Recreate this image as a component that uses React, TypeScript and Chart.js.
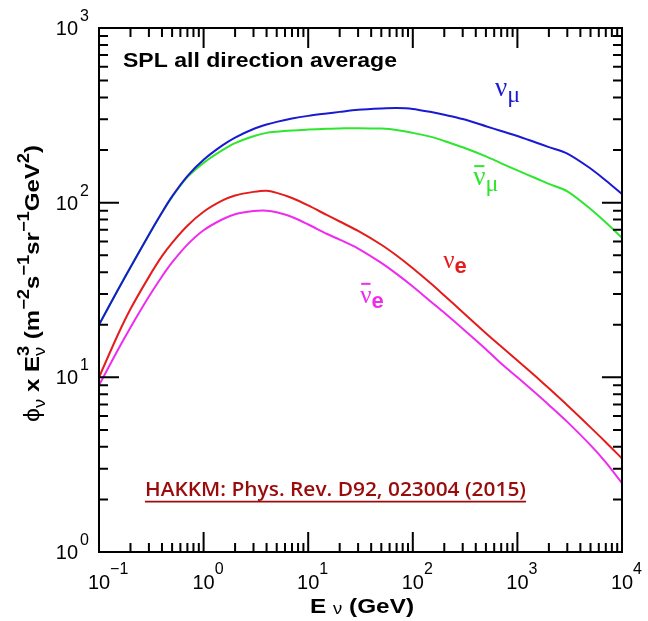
import React, { useEffect, useRef } from 'react';
import { Chart, registerables } from 'chart.js';

Chart.register(...registerables);

// ---- data ----
const energyGeV = [0.1, 0.15, 0.2, 0.3, 0.4, 0.5, 0.7, 1, 1.5, 2, 3, 4, 5, 7, 10, 15, 20, 30, 50, 70, 100, 150, 200, 300, 500, 700, 1000, 1500, 2000, 3000, 5000, 7000, 10000];
const numuFlux = [20, 31.3, 42.7, 65.6, 87.9, 108.7, 142, 176, 212, 236, 264, 280, 290, 303, 314, 324, 331, 340, 346, 348, 344, 330, 318.5, 301, 274, 257, 241, 221, 208, 191, 157, 134, 112];
const numubarFlux = [20, 31.3, 42.7, 65.6, 87.9, 108, 140, 169, 199, 219, 240, 251, 255, 259, 262, 265, 266, 267, 265.5, 261, 251, 238, 225.5, 207.5, 184, 168, 153, 138, 128, 116, 92, 77, 63];
const nueFlux = [10, 17.3, 24.6, 37.6, 49.4, 58.9, 73.8, 88.7, 102.6, 110, 115.3, 117, 113.8, 106.4, 96.4, 85.1, 78, 68.9, 57.4, 49.8, 42.1, 34.3, 29.4, 23.6, 17.9, 15, 12.5, 10.1, 8.65, 6.92, 5.17, 4.25, 3.43];
const nuebarFlux = [9, 14.2, 19.3, 29, 37.8, 45.5, 57.5, 69.5, 80.1, 85.9, 89.5, 90, 88.1, 82.8, 75, 66.4, 61.4, 54.6, 45.2, 39.1, 33.1, 27, 23.4, 19, 14.5, 12, 10, 8.1, 6.95, 5.56, 4.09, 3.26, 2.48];

const xTickValues = [0.1, 1, 10, 100, 1000, 10000];
const xTickExponents = ['\u22121', '0', '1', '2', '3', '4'];
const yTickValues = [1, 10, 100, 1000];
const yTickExponents = ['0', '1', '2', '3'];
const minorMultipliers = [2, 3, 4, 5, 6, 7, 8, 9];

const titleText = 'SPL all direction average';
const referenceText = 'HAKKM: Phys. Rev. D92, 023004 (2015)';

const COLORS = {
  numu: '#1a1ad2',
  numubar: '#2ee62e',
  nue: '#e41c1c',
  nuebar: '#ee2cee',
  ref: '#9a0c0c',
};

type Part = { t: string; font: string; dy?: number; stack?: boolean; bar?: boolean };

function partsWidth(ctx: CanvasRenderingContext2D, parts: Part[]) {
  let w = 0;
  let prevW = 0;
  for (const p of parts) {
    ctx.font = p.font;
    const pw = ctx.measureText(p.t).width;
    if (p.stack) {
      w += Math.max(0, pw - prevW);
      prevW = Math.max(pw, prevW);
    } else {
      w += pw;
      prevW = pw;
    }
  }
  return w;
}

// draws rich text starting at (x, y); optional horizontal stretch sx
function drawParts(ctx: CanvasRenderingContext2D, parts: Part[], x: number, y: number, color: string, sx = 1) {
  ctx.save();
  ctx.translate(x, y);
  ctx.scale(sx, 1);
  let cx = 0;
  let prevStart = 0;
  let prevW = 0;
  ctx.fillStyle = color;
  ctx.strokeStyle = color;
  ctx.textAlign = 'left';
  ctx.textBaseline = 'alphabetic';
  for (const p of parts) {
    ctx.font = p.font;
    const pw = ctx.measureText(p.t).width;
    const px = p.stack ? prevStart : cx;
    ctx.fillText(p.t, px, p.dy || 0);
    if (p.bar) {
      ctx.lineWidth = 2;
      ctx.beginPath();
      ctx.moveTo(px + 1, (p.dy || 0) - 19);
      ctx.lineTo(px + pw - 1, (p.dy || 0) - 19);
      ctx.stroke();
    }
    if (p.stack) {
      cx = prevStart + Math.max(pw, prevW);
      prevW = Math.max(pw, prevW);
    } else {
      prevStart = cx;
      cx += pw;
      prevW = pw;
    }
  }
  ctx.restore();
}

const SANS = '"Liberation Sans", Arial, sans-serif';
const SERIF = '"Liberation Serif", "Times New Roman", serif';

const seriesLabels: { x: number; y: number; color: string; parts: Part[] }[] = [
  {
    x: 612, y: 409, color: COLORS.numu,
    parts: [
      { t: '\u03bd', font: `27px ${SERIF}` },
      { t: '\u03bc', font: `24px ${SERIF}`, dy: 6 },
    ],
  },
  {
    x: 378, y: 126, color: COLORS.numubar,
    parts: [
      { t: '\u03bd', font: `27px ${SERIF}`, bar: true },
      { t: '\u03bc', font: `24px ${SERIF}`, dy: 6 },
    ],
  },
  {
    x: 195, y: 42.3, color: COLORS.nue,
    parts: [
      { t: '\u03bd', font: `25px ${SERIF}` },
      { t: 'e', font: `bold 22px ${SANS}`, dy: 5 },
    ],
  },
  {
    x: 31.4, y: 26.7, color: COLORS.nuebar,
    parts: [
      { t: '\u03bd', font: `25px ${SERIF}`, bar: true },
      { t: 'e', font: `bold 22px ${SANS}`, dy: 5 },
    ],
  },
];

const decorPlugin = {
  id: 'decor',
  afterDatasetsDraw(chart: any) {
    const { ctx, chartArea: a, scales } = chart;
    const xs = scales.x;
    const ys = scales.y;
    ctx.save();

    // frame
    ctx.strokeStyle = '#000';
    ctx.lineWidth = 2;
    ctx.strokeRect(a.left, a.top, a.right - a.left, a.bottom - a.top);

    // ticks, inward, on all four sides
    const majorLen = 20;
    const minorLen = 9;
    ctx.beginPath();
    const xDecades = xTickValues.slice(0, -1);
    for (const v of xTickValues) {
      const px = xs.getPixelForValue(v);
      ctx.moveTo(px, a.bottom); ctx.lineTo(px, a.bottom - majorLen);
      ctx.moveTo(px, a.top); ctx.lineTo(px, a.top + majorLen);
    }
    for (const d of xDecades) {
      for (const m of minorMultipliers) {
        const px = xs.getPixelForValue(d * m);
        ctx.moveTo(px, a.bottom); ctx.lineTo(px, a.bottom - minorLen);
        ctx.moveTo(px, a.top); ctx.lineTo(px, a.top + minorLen);
      }
    }
    const yDecades = yTickValues.slice(0, -1);
    for (const v of yTickValues) {
      const py = ys.getPixelForValue(v);
      ctx.moveTo(a.left, py); ctx.lineTo(a.left + majorLen, py);
      ctx.moveTo(a.right, py); ctx.lineTo(a.right - majorLen, py);
    }
    for (const d of yDecades) {
      for (const m of minorMultipliers) {
        const py = ys.getPixelForValue(d * m);
        ctx.moveTo(a.left, py); ctx.lineTo(a.left + minorLen, py);
        ctx.moveTo(a.right, py); ctx.lineTo(a.right - minorLen, py);
      }
    }
    ctx.stroke();

    // tick labels
    const baseFont = `20px ${SANS}`;
    const expFont = `16px ${SANS}`;
    ctx.fillStyle = '#000';
    ctx.textBaseline = 'alphabetic';
    xTickValues.forEach((v, i) => {
      const px = xs.getPixelForValue(v);
      ctx.font = baseFont;
      const bw = ctx.measureText('10').width;
      ctx.textAlign = 'center';
      ctx.fillText('10', px, a.bottom + 37);
      ctx.font = expFont;
      ctx.textAlign = 'left';
      ctx.fillText(xTickExponents[i], px + bw / 2, a.bottom + 22);
    });
    yTickValues.forEach((v, i) => {
      const py = ys.getPixelForValue(v);
      ctx.font = expFont;
      ctx.textAlign = 'left';
      ctx.fillText(yTickExponents[i], a.left - 19, py - 7);
      ctx.font = baseFont;
      ctx.textAlign = 'right';
      ctx.fillText('10', a.left - 21, py + 7);
    });

    // inner title
    const titleParts: Part[] = [{ t: titleText, font: `bold 20px ${SANS}` }];
    const tw = partsWidth(ctx, titleParts);
    drawParts(ctx, titleParts, xs.getPixelForValue(0.1696), ys.getPixelForValue(598), '#000', 274 / tw);

    // reference line
    ctx.font = `600 20px "Open Sans", ${SANS}`;
    ctx.fillStyle = COLORS.ref;
    ctx.textAlign = 'left';
    const rx = xs.getPixelForValue(0.275);
    const ry = ys.getPixelForValue(2.09);
    const rw0 = ctx.measureText(referenceText).width;
    const rsx = 381 / rw0;
    ctx.save();
    ctx.translate(rx, ry);
    ctx.scale(rsx, 1);
    ctx.fillText(referenceText, 0, 0);
    ctx.restore();
    ctx.strokeStyle = COLORS.ref;
    ctx.lineWidth = 1.6;
    ctx.beginPath();
    ctx.moveTo(rx, ry + 5.5);
    ctx.lineTo(rx + rw0 * rsx, ry + 5.5);
    ctx.stroke();

    // series labels
    for (const lab of seriesLabels) {
      drawParts(ctx, lab.parts, xs.getPixelForValue(lab.x), ys.getPixelForValue(lab.y), lab.color);
    }

    // x axis title
    const B = `bold 21px ${SANS}`;
    const xParts: Part[] = [
      { t: 'E ', font: B },
      { t: '\u03bd', font: `16px ${SANS}`, dy: 1 },
      { t: ' (GeV)', font: B },
    ];
    const xw = partsWidth(ctx, xParts);
    const xsx = 104 / xw;
    drawParts(ctx, xParts, 362 - 52, 613, '#000', xsx);

    // y axis title (rotated)
    const S = `bold 16px ${SANS}`;
    const yParts: Part[] = [
      { t: '\u03d5', font: `22px ${SANS}` },
      { t: '\u03bd', font: `16px ${SANS}`, dy: 6 },
      { t: ' x E', font: B },
      { t: '\u03bd', font: `16px ${SANS}`, dy: 6 },
      { t: '3', font: S, dy: -10, stack: true },
      { t: ' (m', font: B },
      { t: '\u22122', font: S, dy: -10 },
      { t: 's', font: B },
      { t: '\u22121', font: S, dy: -10 },
      { t: 'sr', font: B },
      { t: '\u22121', font: S, dy: -10 },
      { t: 'GeV', font: B },
      { t: '2', font: S, dy: -10 },
      { t: ')', font: B },
    ];
    const yw = partsWidth(ctx, yParts);
    const ysx = 277 / yw;
    ctx.save();
    ctx.translate(39, 283.5);
    ctx.rotate(-Math.PI / 2);
    drawParts(ctx, yParts, -138.5, 0, '#000', ysx);
    ctx.restore();

    ctx.restore();
  },
};

function makeSeries(values: number[]) {
  return energyGeV.map((e, i) => ({ x: e, y: values[i] }));
}

export default function App() {
  const ref = useRef<HTMLCanvasElement>(null);
  useEffect(() => {
    document.body.style.margin = '0';
    const canvas = ref.current!;
    const ds = (label: string, values: number[], color: string) => ({
      label,
      data: makeSeries(values),
      borderColor: color,
      backgroundColor: color,
      borderWidth: 2,
      pointRadius: 0,
      fill: false,
      tension: 0.3,
    });
    const chart = new Chart(canvas, {
      type: 'line',
      data: {
        datasets: [
          ds('\u03bd\u03bc', numuFlux, COLORS.numu),
          ds('anti-\u03bd\u03bc', numubarFlux, COLORS.numubar),
          ds('\u03bde', nueFlux, COLORS.nue),
          ds('anti-\u03bde', nuebarFlux, COLORS.nuebar),
        ],
      },
      options: {
        responsive: false,
        animation: false,
        devicePixelRatio: 1,
        layout: { padding: { left: 99, right: 26, top: 28, bottom: 69 } },
        plugins: { legend: { display: false }, tooltip: { enabled: false }, title: { display: false } },
        scales: {
          x: { type: 'logarithmic', min: 0.1, max: 10000, display: false },
          y: { type: 'logarithmic', min: 1, max: 1000, display: false },
        },
      },
      plugins: [decorPlugin],
    });
    return () => chart.destroy();
  }, []);
  return (
    <div style={{ position: 'absolute', left: 0, top: 0, width: 648, height: 621, background: '#fff' }}>
      <canvas ref={ref} width={648} height={621} style={{ display: 'block' }} />
    </div>
  );
}
